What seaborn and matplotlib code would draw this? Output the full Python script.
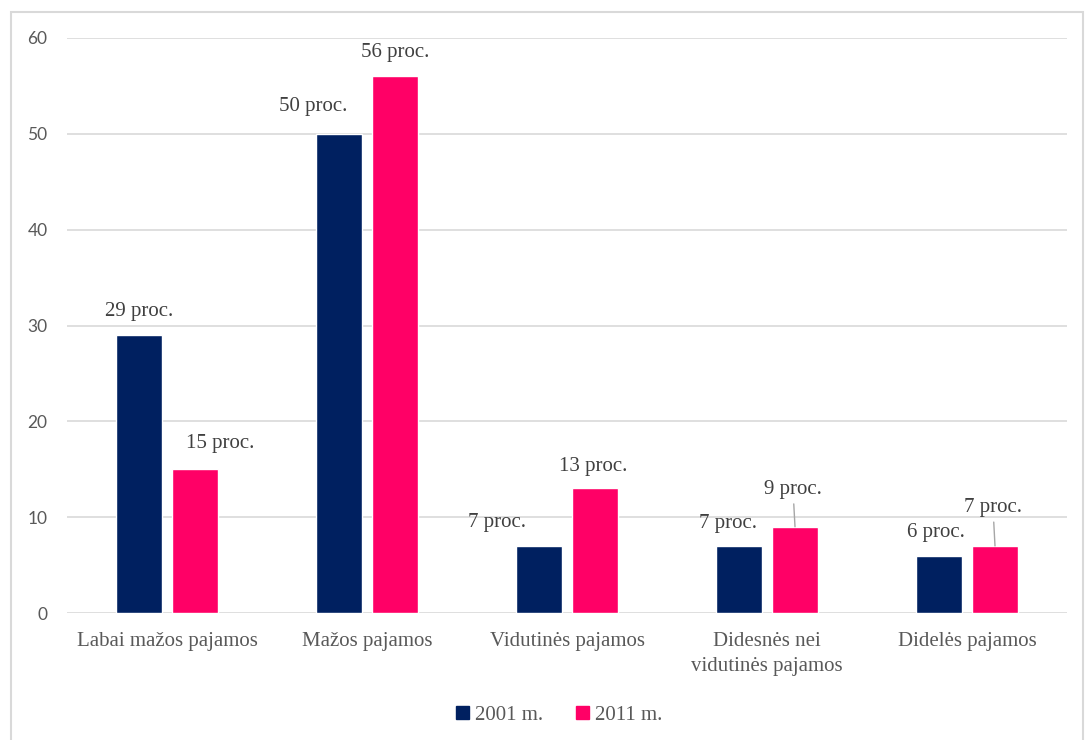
import matplotlib
matplotlib.use('Agg')
import matplotlib.pyplot as plt
from matplotlib.patches import Rectangle
import seaborn as sns
import pandas as pd

# chart data
categories = ['Labai mažos pajamos', 'Mažos pajamos', 'Vidutinės pajamos',
              'Didesnės nei\nvidutinės pajamos', 'Didelės pajamos']
series = ['2001 m.', '2011 m.']
values_2001 = [29, 50, 7, 7, 6]
values_2011 = [15, 56, 13, 9, 7]
y_ticks = [0, 10, 20, 30, 40, 50, 60]

colors = ['#002060', '#FF0066']
# label offsets in pixels (dx, dy) from the top of each bar
offsets_2001 = [(0, 24), (-26, 27), (-42, 23), (-11, 22), (-3, 23)]
offsets_2011 = [(25, 26), (0, 24), (-2, 22), (-2, 37), (-2, 38)]
leaders_2011 = [False, False, False, True, True]

df = pd.DataFrame({
    'kategorija': categories * 2,
    'metai': [series[0]] * len(categories) + [series[1]] * len(categories),
    'proc': values_2001 + values_2011,
})

sns.set_theme(style='white')
serif = ['Liberation Serif', 'DejaVu Serif']
sans = ['Lato', 'DejaVu Sans']

fig = plt.figure(figsize=(10.86, 7.4), dpi=100)
ax = fig.add_axes([67 / 1086, 127 / 740, 1000 / 1086, 575 / 740])

sns.barplot(data=df, x='kategorija', y='proc', hue='metai', palette=colors,
            width=0.56, gap=0.17, saturation=1, ax=ax, legend=False)

ax.set_ylim(0, 60)
ax.set_xlim(-0.5, 4.5)
ax.set_yticks(y_ticks)
ax.yaxis.grid(True, color='#d9d9d9', linewidth=1.2)
ax.set_axisbelow(True)
for s in ax.spines.values():
    s.set_visible(False)
ax.set_xlabel('')
ax.set_ylabel('')
ax.tick_params(axis='y', length=0, pad=14, labelcolor='#595959', labelsize=12.5)
ax.tick_params(axis='x', length=0, pad=14, labelcolor='#595959', labelsize=15)
for t in ax.get_yticklabels():
    t.set_family(sans)
for t in ax.get_xticklabels():
    t.set_family(serif)
    t.set_linespacing(1.4)

# data labels
for container, vals, offs, leads in zip(
        ax.containers, [values_2001, values_2011],
        [offsets_2001, offsets_2011], [[False] * 5, leaders_2011]):
    for bar, v, (dx, dy), lead in zip(container.patches, vals, offs, leads):
        x = bar.get_x() + bar.get_width() / 2
        y = bar.get_height()
        props = None
        if lead:
            props = dict(arrowstyle='-', color='#a6a6a6', lw=1, shrinkA=1, shrinkB=0)
        ax.annotate(f'{v} proc.', xy=(x, y), xytext=(dx, dy),
                    textcoords='offset pixels', ha='center', va='center',
                    fontsize=15, color='#404040', family=serif,
                    arrowprops=props)

# legend
handles = [Rectangle((0, 0), 1, 1, color=c) for c in colors]
fig.legend(handles, series, loc='center', bbox_to_anchor=(0.515, 0.033),
           ncol=2, frameon=False, handlelength=0.6, handleheight=0.6,
           handletextpad=0.3, columnspacing=1.6,
           prop={'family': serif, 'size': 15}, labelcolor='#595959')

# chart border
fig.patches.append(Rectangle((11 / 1086, -0.05), 1072 / 1086, 1.05 - 12 / 740,
                             transform=fig.transFigure, fill=False,
                             edgecolor='#d9d9d9', linewidth=1.5))

fig.savefig('out.png', dpi=100)
